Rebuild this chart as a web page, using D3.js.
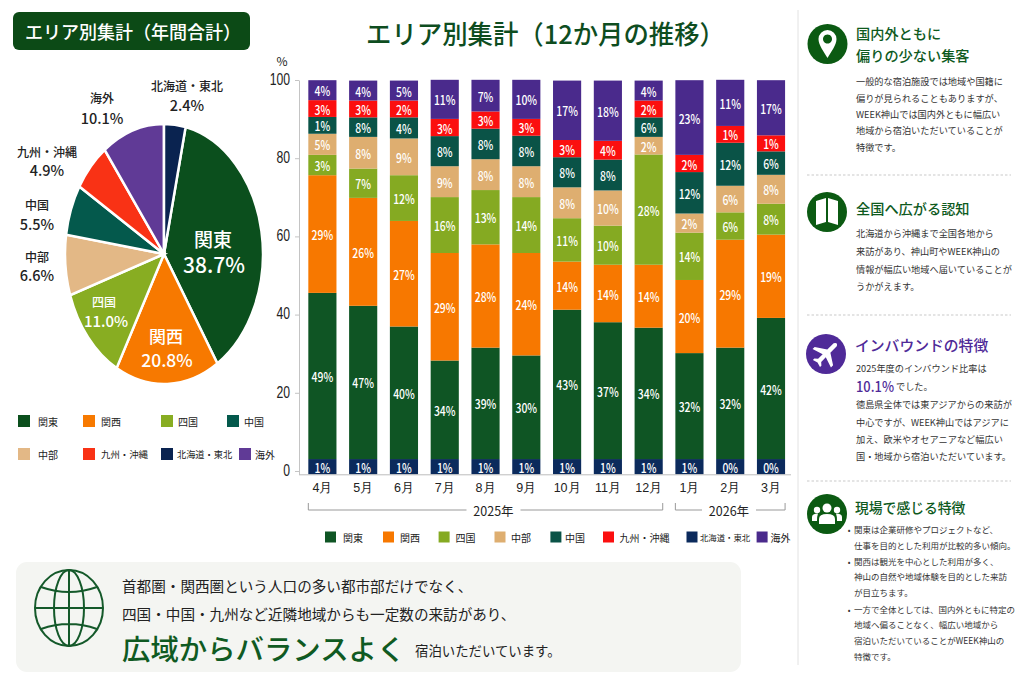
<!DOCTYPE html>
<html lang="ja">
<head>
<meta charset="utf-8">
<script src="https://cdnjs.cloudflare.com/ajax/libs/d3/7.8.5/d3.min.js"></script>
<style>
html, body { margin: 0; padding: 0; background: #fff; }
svg { display: block; font-family: "Noto Sans CJK JP", sans-serif; }
</style>
</head>
<body>
<svg id="chart" width="1024" height="683"></svg>
<script>
// 年間合計 pie: slice sizes as measured on the picture, labels as printed
var pieAreas = ['関東', '関西', '四国', '中部', '中国', '九州・沖縄', '海外', '北海道・東北'];
var pieShares = [37.4, 17.0, 11.9, 7.5, 6.3, 6.1, 10.2, 3.5];
var pieLabels = ['38.7%', '20.8%', '11.0%', '6.6%', '5.5%', '4.9%', '10.1%', '2.4%'];

// 12 month stacks: heights as measured against the axis, labels as printed
var months = ['4月', '5月', '6月', '7月', '8月', '9月', '10月', '11月', '12月', '1月', '2月', '3月'];
var hokkaido = [3.9, 3.9, 3.9, 3.9, 3.9, 3.9, 3.9, 3.9, 3.9, 3.9, 3.9, 3.9];
var kanto = [42.5, 39.2, 33.9, 25.2, 28.5, 26.5, 38.2, 35.0, 33.6, 27.1, 28.5, 36.1];
var kansai = [30.1, 27.6, 27.0, 27.5, 26.4, 26.2, 12.3, 14.7, 16.1, 18.7, 27.6, 21.3];
var shikoku = [5.2, 7.5, 11.7, 14.3, 13.9, 14.3, 11.1, 10.0, 28.2, 12.1, 7.0, 7.9];
var chubu = [5.4, 8.1, 9.4, 7.9, 7.9, 7.9, 7.9, 9.0, 4.5, 4.9, 6.8, 7.4];
var chugoku = [4.3, 5.0, 5.4, 7.7, 7.8, 7.8, 7.7, 7.9, 5.0, 10.6, 11.0, 6.0];
var kyushu = [4.3, 4.3, 4.3, 4.4, 4.4, 4.3, 4.4, 4.8, 4.3, 4.4, 4.3, 4.1];
var kaigai = [5.1, 5.1, 5.1, 10.0, 8.1, 10.0, 15.2, 15.4, 5.1, 19.1, 11.8, 14.1];

var hokkaidoLabels = ['1%', '1%', '1%', '1%', '1%', '1%', '1%', '1%', '1%', '1%', '0%', '0%'];
var kantoLabels = ['49%', '47%', '40%', '34%', '39%', '30%', '43%', '37%', '34%', '32%', '32%', '42%'];
var kansaiLabels = ['29%', '26%', '27%', '29%', '28%', '24%', '14%', '14%', '14%', '20%', '29%', '19%'];
var shikokuLabels = ['3%', '7%', '12%', '16%', '13%', '14%', '11%', '10%', '28%', '14%', '6%', '8%'];
var chubuLabels = ['5%', '8%', '9%', '9%', '8%', '8%', '8%', '10%', '2%', '2%', '6%', '8%'];
var chugokuLabels = ['1%', '8%', '4%', '8%', '8%', '8%', '8%', '8%', '6%', '12%', '12%', '6%'];
var kyushuLabels = ['3%', '3%', '2%', '3%', '3%', '3%', '3%', '4%', '2%', '2%', '1%', '1%'];
var kaigaiLabels = ['4%', '4%', '5%', '11%', '7%', '10%', '17%', '18%', '4%', '23%', '11%', '17%'];

var yTicks = [0, 20, 40, 60, 80, 100];

var pieColor = {
  '関東': '#0b4f1d', '関西': '#f77900', '四国': '#88ad22', '中部': '#e3b886',
  '中国': '#04594c', '九州・沖縄': '#f93215', '北海道・東北': '#0a2350', '海外': '#603a96'
};
var barColor = {
  '関東': '#0f5524', '関西': '#f77800', '四国': '#85aa22', '中部': '#deae70',
  '中国': '#0a5347', '九州・沖縄': '#fb0f0f', '北海道・東北': '#0b2a5c', '海外': '#4a2a8c'
};

var svg = d3.select('#chart');
var GREEN = '#0e5a1e', INK = '#222', BODY = '#333';
var SQUEEZE = 0.8; // the picture's numerals are condensed and no narrow face is installed

function txt(x, y, s, size, fill, opts) {
  opts = opts || {};
  var t = svg.append('text')
    .attr('x', x).attr('y', y)
    .attr('font-size', size)
    .attr('fill', fill || INK)
    .attr('font-weight', opts.weight || 400)
    .attr('text-anchor', opts.anchor || 'start')
    .attr('dominant-baseline', 'central')
    .text(s);
  if (opts.len) t.attr('textLength', opts.len).attr('lengthAdjust', 'spacingAndGlyphs');
  return t;
}

// ---- left: pie ----
svg.append('rect').attr('x', 13).attr('y', 12).attr('width', 237).attr('height', 38).attr('rx', 6).attr('fill', '#0c4a16');
txt(25, 31, 'エリア別集計（年間合計）', 18, '#fff', { weight: 500 });

var pieCx = 164, pieCy = 254, pieRx = 99, pieRy = 130;
var startA = 3.5 / 100 * 2 * Math.PI;
var pie = d3.pie().sort(null).startAngle(startA).endAngle(startA + 2 * Math.PI);
var arc = d3.arc().innerRadius(0).outerRadius(1);

svg.append('g')
  .attr('transform', 'translate(' + pieCx + ',' + pieCy + ') scale(' + pieRx + ',' + pieRy + ')')
  .selectAll('path')
  .data(pie(pieShares))
  .enter().append('path')
    .attr('d', arc)
    .attr('fill', function(d, i) { return pieColor[pieAreas[i]]; })
    .attr('stroke', '#fff')
    .attr('stroke-width', 2.5)
    .attr('vector-effect', 'non-scaling-stroke');

// label spots around the pie, same order as pieAreas: [name x, name y, value x, value y, name size, value size]
var pieSpots = [
  [213, 238, 214, 264, 19, 21],
  [166, 335, 167, 359, 17, 17.5],
  [104, 301, 106, 320, 12, 15],
  [37, 256, 37, 274, 12, 14.5],
  [37, 204, 37, 223, 12, 14.5],
  [47, 151, 47, 169, 12, 14.5],
  [102, 97, 102, 117, 12, 14.5],
  [187, 85, 187, 104, 12, 14.5]
];
pieAreas.forEach(function(name, i) {
  var s = pieSpots[i], c = i < 3 ? '#fff' : INK;
  txt(s[0], s[1], name, s[4], c, { anchor: 'middle', weight: 500 });
  txt(s[2], s[3], pieLabels[i], s[5], c, { anchor: 'middle', weight: 500 });
});

function legend(items, colors, size) {
  items.forEach(function(it) {
    svg.append('rect').attr('x', it[1]).attr('y', it[2] - size / 2).attr('width', size).attr('height', size).attr('fill', colors[it[0]]);
    txt(it[3], it[2], it[0], it[4] || 10, INK);
  });
}
legend([
  ['関東', 18, 421, 38], ['関西', 83, 421, 101], ['四国', 161, 421, 178], ['中国', 227, 421, 244],
  ['中部', 18, 454, 38], ['九州・沖縄', 83, 454, 101, 9.4], ['北海道・東北', 161, 454, 177, 9.2], ['海外', 239, 454, 255]
], pieColor, 12);

// ---- middle: stacked bars ----
txt(366, 32, 'エリア別集計（12か月の推移）', 26, '#0e4d1f', { weight: 500, len: 359 });

var x = d3.scaleBand().domain(months).range([302, 791.4]).paddingInner(0.31).paddingOuter(0.155);
var y = d3.scaleLinear().domain([-0.85, 100]).range([474.3, 80]);

var stackRows = [
  ['北海道・東北', hokkaido, hokkaidoLabels],
  ['関東', kanto, kantoLabels],
  ['関西', kansai, kansaiLabels],
  ['四国', shikoku, shikokuLabels],
  ['中部', chubu, chubuLabels],
  ['中国', chugoku, chugokuLabels],
  ['九州・沖縄', kyushu, kyushuLabels],
  ['海外', kaigai, kaigaiLabels]
];

var table = months.map(function(m, i) {
  var row = { month: m };
  stackRows.forEach(function(r) { row[r[0]] = r[1][i]; });
  return row;
});
var stacked = d3.stack().keys(stackRows.map(function(r) { return r[0]; }))
  .offset(function(series, order) {
    d3.stackOffsetNone(series, order);
    series.forEach(function(s) { s.forEach(function(p) { p[0] -= 0.85; p[1] -= 0.85; }); });
  })(table);

var layers = svg.append('g').selectAll('g').data(stacked).enter().append('g')
  .attr('fill', function(d) { return barColor[d.key]; });
layers.selectAll('rect').data(function(d) { return d; }).enter().append('rect')
  .attr('x', function(d) { return x(d.data.month); })
  .attr('y', function(d) { return y(d[1]); })
  .attr('width', x.bandwidth())
  .attr('height', function(d) { return y(d[0]) - y(d[1]); });
layers.selectAll('text').data(function(d, i) {
    return d.map(function(p, j) { return { p: p, label: stackRows[i][2][j] }; });
  }).enter().append('text')
  .attr('transform', function(d) {
    return 'translate(' + (x(d.p.data.month) + x.bandwidth() / 2) + ',' + ((y(d.p[0]) + y(d.p[1])) / 2) + ') scale(' + SQUEEZE + ',1)';
  })
  .attr('text-anchor', 'middle')
  .attr('dominant-baseline', 'central')
  .attr('font-size', 13)
  .attr('font-weight', 500)
  .attr('fill', '#fff')
  .text(function(d) { return d.label; });

var yAxis = svg.append('g').attr('transform', 'translate(299,0)')
  .call(d3.axisLeft(y).tickValues(yTicks).tickSize(4).tickSizeOuter(0));
yAxis.selectAll('path,line').attr('stroke', '#c4c4c4');
yAxis.selectAll('text')
  .attr('x', 0)
  .attr('transform', 'translate(-9,-1) scale(0.74,1)')
  .attr('font-size', 16.5)
  .attr('font-weight', 500)
  .attr('fill', INK);
txt(282, 60, '%', 12, INK, { anchor: 'middle' });

var xAxis = svg.append('g').attr('transform', 'translate(0,474.3)')
  .call(d3.axisBottom(x).tickSize(0).tickPadding(9));
xAxis.select('path').attr('stroke', '#bdbdbd').attr('d', 'M299,0.5H791');
xAxis.selectAll('text').attr('font-size', 12.5).attr('fill', INK);

// year brackets
var brackets = [
  ['2025年', '4月', '12月', 493.5],
  ['2026年', '1月', '3月', 729]
];
brackets.forEach(function(b) {
  var x0 = x(b[1]), x1 = x(b[2]) + x.bandwidth();
  svg.append('path')
    .attr('d', 'M' + x0 + ',503V510H' + x1 + 'V503')
    .attr('fill', 'none').attr('stroke', '#999').attr('stroke-width', 1);
  svg.append('rect').attr('x', b[3] - 27).attr('y', 504).attr('width', 54).attr('height', 12).attr('fill', '#fff');
  txt(b[3], 510, b[0], 12.5, INK, { anchor: 'middle' });
});

legend([
  ['関東', 325, 537, 343], ['関西', 383, 537, 400], ['四国', 438.6, 537, 455.6], ['中部', 494.5, 537, 511],
  ['中国', 550.4, 537, 565], ['九州・沖縄', 603, 537, 619.5], ['北海道・東北', 686.5, 537, 700, 8.4], ['海外', 756.6, 537, 770.5]
], barColor, 11);

// ---- bottom panel ----
svg.append('rect').attr('x', 16).attr('y', 562).attr('width', 725).attr('height', 110).attr('rx', 11).attr('fill', '#f4f5f2');
var globe = svg.append('g').attr('transform', 'translate(69,608)').attr('fill', 'none').attr('stroke', '#14592a').attr('stroke-width', 2);
globe.append('ellipse').attr('rx', 34).attr('ry', 38);
globe.append('ellipse').attr('rx', 15).attr('ry', 38);
globe.append('path').attr('d', 'M0,-38V38M-34,0H34M-28,-21Q0,-11 28,-21M-28,21Q0,11 28,21');

txt(122, 585, '首都圏・関西圏という人口の多い都市部だけでなく、', 14.6, INK);
txt(122, 613, '四国・中国・九州など近隣地域からも一定数の来訪があり、', 14.6, INK);
txt(122, 647, '広域からバランスよく', 28.4, '#0f5a22', { weight: 500 });
txt(415, 650, '宿泊いただいています。', 13.4, INK);

// ---- right column ----
svg.append('line').attr('x1', 798).attr('x2', 798).attr('y1', 10).attr('y2', 665).attr('stroke', '#e2e2e2');
[175, 315, 481].forEach(function(v) {
  svg.append('line').attr('x1', 807).attr('x2', 1011).attr('y1', v).attr('y2', v)
    .attr('stroke', '#c9c9c9').attr('stroke-dasharray', '2.5 2');
});

function lines(x0, rows, size) {
  rows.forEach(function(r) { txt(x0, r[0], r[1], size, BODY); });
}

function badge(cx, cy, color) {
  svg.append('circle').attr('cx', cx).attr('cy', cy).attr('r', 20).attr('fill', color);
  return svg.append('g').attr('transform', 'translate(' + cx + ',' + cy + ')').attr('fill', '#fff');
}

var pin = badge(827.5, 44, '#0b5a12');
pin.append('path').attr('fill-rule', 'evenodd')
  .attr('d', 'M0,14C-4,7 -9,1 -9,-5A9,9 0 1 1 9,-5C9,1 4,7 0,14ZM0,-9.5A4.5,4.5 0 1 0 0.01,-9.5Z');
txt(856, 33, '国内外ともに', 14.2, GREEN, { weight: 500 });
txt(856, 55, '偏りの少ない集客', 14.2, GREEN, { weight: 500 });
lines(856, [
  [80.7, '一般的な宿泊施設では地域や国籍に'],
  [98, '偏りが見られることもありますが、'],
  [114, 'WEEK神山では国内外ともに幅広い'],
  [130, '地域から宿泊いただいていることが'],
  [147, '特徴です。']
], 9.2);

var map = badge(827, 212, '#0b5a12');
map.append('path').attr('d', 'M-11,-11L-1,-14V10L-11,13ZM1,-14L11,-11V13L1,10Z');
txt(856, 208, '全国へ広がる認知', 14.2, GREEN, { weight: 500 });
lines(856, [
  [232.7, '北海道から沖縄まで全国各地から'],
  [250.7, '来訪があり、神山町やWEEK神山の'],
  [268.7, '情報が幅広い地域へ届いていることが'],
  [286, 'うかがえます。']
], 9.2);

var plane = badge(826, 354, '#4f2a98');
plane.append('path').attr('transform', 'rotate(45)')
  .attr('d', 'M-2.2,-13Q0,-17 2.2,-13V-4L13,3V6L2.2,2.5V9L5,11.5V13.5L0,12L-5,13.5V11.5L-2.2,9V2.5L-13,6V3L-2.2,-4Z');
txt(855, 344, 'インバウンドの特徴', 14.8, '#4f2a98', { weight: 500 });
txt(856, 367.7, '2025年度のインバウンド比率は', 9.2, BODY);
txt(856, 385, '10.1%', 14.5, '#4f2a98', { weight: 500, len: 38 });
txt(896, 386, 'でした。', 9.2, BODY);
lines(856, [
  [404, '徳島県全体では東アジアからの来訪が'],
  [421.7, '中心ですが、WEEK神山ではアジアに'],
  [439, '加え、欧米やオセアニアなど幅広い'],
  [456, '国・地域から宿泊いただいています。']
], 9.2);

var people = badge(827, 514, '#0b5a12');
people.append('circle').attr('cx', 0).attr('cy', -6).attr('r', 4.5);
people.append('circle').attr('cx', -10).attr('cy', -4).attr('r', 3.2);
people.append('circle').attr('cx', 10).attr('cy', -4).attr('r', 3.2);
people.append('path').attr('d', 'M-8,10V5Q-8,0 0,0Q8,0 8,5V10Z');
people.append('path').attr('d', 'M-15,7V3Q-15,-0.5 -9,-0.5Q-10,2 -10,7ZM15,7V3Q15,-0.5 9,-0.5Q10,2 10,7Z');
txt(855, 507, '現場で感じる特徴', 13.8, GREEN, { weight: 500 });
[529, 561, 609].forEach(function(v) { txt(849, v, '•', 8, BODY, { anchor: 'middle' }); });
lines(854, [
  [529, '関東は企業研修やプロジェクトなど、'],
  [545, '仕事を目的とした利用が比較的多い傾向。'],
  [561, '関西は観光を中心とした利用が多く、'],
  [576, '神山の自然や地域体験を目的とした来訪'],
  [592, 'が目立ちます。'],
  [609, '一方で全体としては、国内外ともに特定の'],
  [624, '地域へ偏ることなく、幅広い地域から'],
  [640, '宿泊いただいていることがWEEK神山の'],
  [656, '特徴です。']
], 8.5);
</script>
</body>
</html>
